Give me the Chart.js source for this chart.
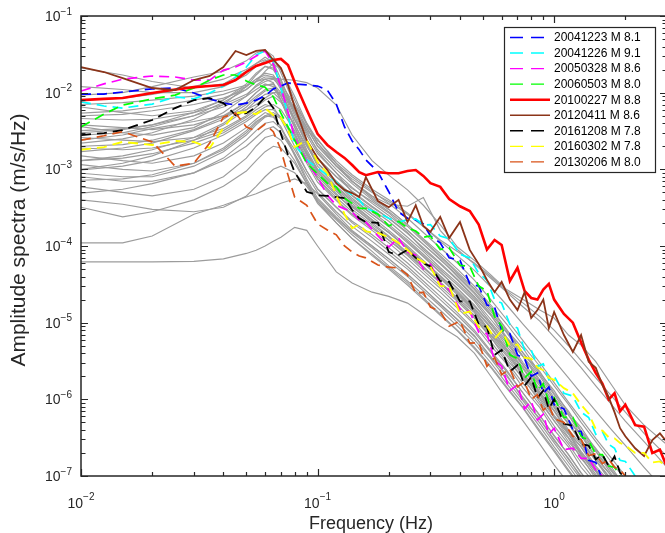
<!DOCTYPE html>
<html lang="en">
  <head>
    <meta charset="utf-8" />
    <title>Amplitude spectra</title>
    <script src="https://cdn.jsdelivr.net/npm/chart.js@4.4.1/dist/chart.umd.min.js"></script>
    <style>
      html, body { margin: 0; padding: 0; background: #fff; overflow: hidden; }
      #wrap { width: 668px; height: 533px; }
    </style>
  </head>
  <body>
    <div id="wrap"><canvas id="spec" width="668" height="533"></canvas></div>
    <script>
      // frequency grids (Hz)
      const freqFine = [0.01, 0.0125, 0.015, 0.02, 0.025, 0.03, 0.035, 0.04, 0.045, 0.05,
        0.055, 0.06, 0.065, 0.07, 0.075, 0.08, 0.09, 0.1, 0.11, 0.12,
        0.13, 0.14, 0.15, 0.16, 0.18, 0.2, 0.22, 0.24, 0.26, 0.28,
        0.3, 0.33, 0.36, 0.4, 0.44, 0.48, 0.52, 0.56, 0.6, 0.65,
        0.7, 0.75, 0.8, 0.85, 0.9, 0.95, 1.0, 1.1, 1.2, 1.3,
        1.4, 1.5, 1.6, 1.7, 1.8, 1.9, 2.0, 2.2, 2.4, 2.6, 2.8, 3.0];
      const freqGray = [0.01, 0.015, 0.02, 0.03, 0.04, 0.05, 0.055, 0.06, 0.065, 0.07,
        0.08, 0.09, 0.1, 0.12, 0.14, 0.17, 0.2, 0.24, 0.28, 0.33,
        0.39, 0.46, 0.54, 0.63, 0.74, 0.87, 1.0, 1.15, 1.3, 1.5, 1.75, 2.0, 2.4, 3.0];

      // axis ticks
      const xMajorTicks = [0.01, 0.1, 1];
      const xTickExp = ["\u22122", "\u22121", "0"];
      const yMajorTicks = [1e-7, 1e-6, 1e-5, 1e-4, 1e-3, 1e-2, 1e-1];
      const yTickExp = ["\u22127", "\u22126", "\u22125", "\u22124", "\u22123", "\u22122", "\u22121"];
      const minorSteps = [1, 2, 3, 4, 5, 6, 7, 8, 9];

      const eventLabels = ["20041223 M 8.1", "20041226 M 9.1", "20050328 M 8.6", "20060503 M 8.0",
        "20100227 M 8.8", "20120411 M 8.6", "20161208 M 7.8", "20160302 M 7.8", "20130206 M 8.0"];

      // highlighted events (m/s/Hz) on freqFine
      const amp20041223 = [9.6e-3, 9.6e-3, 1.02e-2, 1.12e-2, 1.15e-2, 9.9e-3, 8.3e-3, 7.3e-3, 6.9e-3, 7.3e-3,
        8.0e-3, 9.1e-3, 1.12e-2, 1.22e-2, 1.34e-2, 1.3e-2, 1.26e-2, 1.22e-2, 1.08e-2, 7.1e-3,
        3.57e-3, 2.34e-3, 1.8e-3, 1.33e-3, 9.2e-4, 5.1e-4, 2.77e-4, 2.3e-4, 2.19e-4, 1.94e-4,
        1.35e-4, 1.1e-4, 7.0e-5, 6.5e-5, 3.2e-5, 3.0e-5, 1.7e-5, 1.6e-5, 8.0e-6, 7.2e-6,
        3.8e-6, 3.4e-6, 2.0e-6, 2.2e-6, 1.2e-6, 1.45e-6, 8.5e-7, 7.5e-7, 4.0e-7, 3.8e-7,
        1.6e-7, 1.5e-7, 9e-8];
      const amp20041226 = [7.6e-3, 6.7e-3, 6.3e-3, 7.1e-3, 8.8e-3, 8.3e-3, 9.9e-3, 1.22e-2, 1.6e-2, 2.16e-2,
        3.1e-2, 3.5e-2, 2.51e-2, 1.15e-2, 5.1e-3, 2.08e-3, 1.33e-3, 1.04e-3, 8.4e-4, 6.8e-4,
        5.4e-4, 4.6e-4, 4.0e-4, 3.1e-4, 2.7e-4, 2.3e-4, 2.05e-4, 2.2e-4, 2.25e-4, 1.88e-4,
        1.9e-4, 1.35e-4, 1.25e-4, 7.8e-5, 7.0e-5, 4.4e-5, 3.6e-5, 2.0e-5, 1.8e-5, 9.5e-6,
        8.5e-6, 4.4e-6, 4.4e-6, 2.7e-6, 2.9e-6, 1.8e-6, 2.0e-6, 1.2e-6, 1.1e-6, 6.8e-7,
        5.8e-7, 3.5e-7, 3.8e-7, 2.6e-7, 2.3e-7, 1.6e-7, 1.55e-7, 1.0e-7];
      const amp20050328 = [1.05e-2, 1.3e-2, 1.5e-2, 1.65e-2, 1.6e-2, 1.46e-2, 1.46e-2, 1.97e-2, 2.16e-2, 2.51e-2,
        3.0e-2, 3.5e-2, 2.36e-2, 1.18e-2, 5.6e-3, 2.57e-3, 1.25e-3, 7.9e-4, 4.6e-4, 3.4e-4,
        3.05e-4, 2.77e-4, 2.19e-4, 2.05e-4, 1.35e-4, 9.7e-5, 1.27e-4, 8.35e-5, 7.6e-5, 5.0e-5,
        5.8e-5, 3.2e-5, 2.7e-5, 1.5e-5, 1.4e-5, 7.5e-6, 7.2e-6, 3.2e-6, 2.7e-6, 1.3e-6,
        1.55e-6, 7.5e-7, 9.5e-7, 5.4e-7, 6.4e-7, 3.5e-7, 4.2e-7, 2.2e-7, 2.3e-7, 1.7e-7,
        1.7e-7, 1.2e-7, 1.0e-7];
      const amp20060503 = [3.57e-3, 5.25e-3, 6.9e-3, 8.3e-3, 9.3e-3, 1.15e-2, 1.46e-2, 1.7e-2, 1.7e-2, 1.42e-2,
        1.26e-2, 1.18e-2, 8.8e-3, 5.4e-3, 3.57e-3, 2.4e-3, 1.2e-3, 8.7e-4, 6.6e-4, 5.9e-4,
        4.2e-4, 3.6e-4, 3.1e-4, 3.1e-4, 2.6e-4, 1.82e-4, 2.1e-4, 1.72e-4, 1.57e-4, 1.3e-4,
        1.35e-4, 9.0e-5, 9.5e-5, 5.6e-5, 5.4e-5, 3.0e-5, 2.6e-5, 1.2e-5, 9.0e-6, 3.8e-6,
        3.4e-6, 1.9e-6, 2.3e-6, 1.3e-6, 1.6e-6, 9.0e-7, 1.05e-6, 5.8e-7, 5.8e-7, 3.3e-7,
        2.9e-7, 1.9e-7, 1.9e-7, 1.35e-7, 1.3e-7, 1.0e-7];
      const amp20100227 = [8.0e-3, 8.3e-3, 8.5e-3, 9.9e-3, 1.1e-2, 1.18e-2, 1.22e-2, 1.26e-2, 1.46e-2, 1.86e-2,
        2.23e-2, 2.44e-2, 2.67e-2, 2.75e-2, 2.3e-2, 1.38e-2, 6.0e-3, 2.9e-3, 2.08e-3, 1.68e-3,
        1.41e-3, 1.14e-3, 9.2e-4, 8.4e-4, 9.2e-4, 8.9e-4, 8.9e-4, 9.5e-4, 9.8e-4, 8.2e-4,
        6.6e-4, 5.9e-4, 4.1e-4, 3.3e-4, 2.86e-4, 1.9e-4, 9.0e-5, 1.2e-4, 1.03e-4, 3.5e-5,
        5.2e-5, 2.6e-5, 2.1e-5, 2.0e-5, 2.7e-5, 3.2e-5, 2.0e-5, 1.3e-5, 1.0e-5, 5.5e-6,
        3.3e-6, 2.2e-6, 1.6e-6, 1.0e-6, 1.2e-6, 7.0e-7, 8.5e-7, 4.6e-7, 4.4e-7, 2.0e-7,
        2.2e-7, 1.3e-7];
      const amp20120411 = [2.16e-2, 1.86e-2, 1.55e-2, 1.15e-2, 1.08e-2, 1.46e-2, 1.65e-2, 2.16e-2, 3.5e-2, 3.1e-2,
        3.5e-2, 3.6e-2, 2.67e-2, 2.1e-2, 1.26e-2, 6.5e-3, 2.4e-3, 1.41e-3, 9.8e-4, 6.6e-4,
        5.4e-4, 4.9e-4, 4.35e-4, 7.9e-4, 3.85e-4, 3.2e-4, 4.0e-4, 2.05e-4, 3.4e-4, 1.82e-4,
        1.53e-4, 2.4e-4, 1.27e-4, 2.05e-4, 8.9e-5, 5.8e-5, 3.6e-5, 2.5e-5, 3.4e-5, 2.0e-5,
        1.46e-5, 2.5e-5, 1.15e-5, 1.46e-5, 2.0e-5, 8.5e-6, 1.38e-5, 6.9e-6, 4.15e-6, 6.9e-6,
        3.1e-6, 2.57e-6, 1.54e-6, 1.07e-6, 6.8e-7, 4.2e-7, 3.3e-7, 2.3e-7, 1.82e-7, 2.95e-7,
        3.6e-7, 2.77e-7];
      const amp20161208 = [2.8e-3, 2.97e-3, 3.25e-3, 4.4e-3, 6.3e-3, 8.0e-3, 8.5e-3, 7.3e-3, 5.1e-3, 5.4e-3,
        6.5e-3, 8.8e-3, 6.3e-3, 2.9e-3, 1.54e-3, 9.2e-4, 5.1e-4, 4.6e-4, 4.5e-4, 4.35e-4,
        4.2e-4, 2.95e-4, 2.3e-4, 2.05e-4, 2.0e-4, 8.35e-5, 7.6e-5, 8.9e-5, 7.0e-5, 6.0e-5,
        5.4e-5, 3.5e-5, 3.4e-5, 1.9e-5, 1.9e-5, 9.5e-6, 8.8e-6, 3.8e-6, 4.4e-6, 2.3e-6,
        2.8e-6, 1.5e-6, 1.95e-6, 1.05e-6, 1.3e-6, 7.5e-7, 1.0e-6, 4.8e-7, 4.5e-7, 2.6e-7,
        2.5e-7, 1.65e-7, 1.9e-7, 1.35e-7, 1.8e-7, 1.1e-7, 9.5e-8];
      const amp20160302 = [1.8e-3, 1.95e-3, 2.28e-3, 2.08e-3, 2.34e-3, 2.28e-3, 1.9e-3, 3.47e-3, 5.4e-3, 5.6e-3,
        5.25e-3, 6.3e-3, 5.1e-3, 4.7e-3, 3.25e-3, 1.95e-3, 2.4e-3, 1.25e-3, 8.9e-4, 4.6e-4,
        2.6e-4, 1.7e-4, 1.9e-4, 1.55e-4, 1.48e-4, 1.3e-4, 1.1e-4, 8.9e-5, 7.0e-5, 6.2e-5,
        5.4e-5, 3.0e-5, 3.0e-5, 1.3e-5, 1.4e-5, 8.8e-6, 9.0e-6, 6.2e-6, 7.8e-6, 5.0e-6,
        5.2e-6, 3.5e-6, 3.4e-6, 2.6e-6, 2.4e-6, 1.9e-6, 1.8e-6, 1.4e-6, 1.2e-6, 8.5e-7,
        6.5e-7, 4.1e-7, 3.9e-7, 3.2e-7, 3.1e-7, 2.7e-7, 2.5e-7, 2.0e-7, 2.0e-7, 1.5e-7,
        1.55e-7, 1.3e-7];
      const amp20130206 = [2.4e-3, 2.74e-3, 3.1e-3, 2.28e-3, 1.1e-3, 1.2e-3, 2.2e-3, 4.8e-3, 5.4e-3, 3.57e-3,
        3.16e-3, 3.9e-3, 3.1e-3, 1.8e-3, 8.4e-4, 4.35e-4, 3.4e-4, 1.94e-4, 1.62e-4, 1.4e-4,
        1.0e-4, 8.35e-5, 7.4e-5, 7.0e-5, 5.65e-5, 5.3e-5, 5.16e-5, 4.2e-5, 2.4e-5, 2.5e-5,
        1.6e-5, 1.4e-5, 9.0e-6, 1.05e-5, 5.4e-6, 5.5e-6, 2.7e-6, 3.5e-6, 2.1e-6, 2.5e-6,
        1.45e-6, 1.7e-6, 1.0e-6, 1.15e-6, 7.2e-7, 8.5e-7, 5.6e-7, 5.0e-7, 3.3e-7, 3.0e-7,
        1.85e-7, 1.95e-7, 1.45e-7, 1.65e-7, 1.3e-7, 1.2e-7, 1.0e-7];

      // background events (gray) on freqGray
      const gray01 = [2.1e-2, 1.7e-2, 1.4e-2, 1.15e-2, 1.3e-2, 1.9e-2, 2.4e-2, 2.9e-2, 2.5e-2, 1.5e-2, 5.5e-3, 2.4e-3, 1.4e-3, 8.0e-4, 5.6e-4, 3.8e-4, 2.7e-4, 1.6e-4, 1.05e-4, 6.8e-5, 4.0e-5, 2.4e-5, 1.3e-5, 7.4e-6, 3.6e-6, 2.0e-6, 1.05e-6, 6.2e-7, 3.4e-7, 2.1e-7, 1.05e-7, 6.6e-8, 3.1e-8, 1.5e-8];
      const gray02 = [9.3e-3, 1.0e-2, 1.2e-2, 1.6e-2, 1.9e-2, 2.6e-2, 3.3e-2, 3.6e-2, 3.0e-2, 1.8e-2, 7.0e-3, 3.5e-3, 2.0e-3, 1.1e-3, 7.0e-4, 4.2e-4, 3.0e-4, 1.9e-4, 1.2e-4, 7.5e-5, 4.6e-5, 2.8e-5, 1.6e-5, 8.0e-6, 4.6e-6, 2.2e-6, 1.3e-6, 6.6e-7, 4.3e-7, 2.2e-7, 1.3e-7, 7.0e-8, 3.8e-8, 1.6e-8];
      const gray03 = [7.0e-3, 7.4e-3, 8.0e-3, 9.0e-3, 1.05e-2, 1.25e-2, 1.4e-2, 1.5e-2, 1.55e-2, 1.5e-2, 1.45e-2, 1.35e-2, 1.15e-2, 6.9e-3, 2.8e-3, 1.3e-3, 8.4e-4, 5.4e-4, 3.4e-4, 1.9e-4, 9.7e-5, 6.5e-5, 4.2e-5, 2.7e-5, 2.0e-5, 1.46e-5, 1.15e-5, 6.9e-6, 5.1e-6, 3.1e-6, 1.54e-6, 8.4e-7, 4.6e-7, 2.55e-7];
      const gray04 = [8.0e-3, 8.5e-3, 9.5e-3, 1.2e-2, 1.5e-2, 2.0e-2, 2.4e-2, 2.7e-2, 2.2e-2, 1.2e-2, 4.5e-3, 2.2e-3, 1.2e-3, 7.0e-4, 4.6e-4, 3.0e-4, 2.1e-4, 1.3e-4, 8.5e-5, 5.2e-5, 3.3e-5, 2.0e-5, 1.1e-5, 6.2e-6, 3.0e-6, 1.65e-6, 9.0e-7, 4.8e-7, 3.0e-7, 1.6e-7, 9.0e-8, 5.2e-8, 2.6e-8, 1.2e-8];
      const gray05 = [6.5e-3, 5.5e-3, 5.0e-3, 5.8e-3, 8.0e-3, 1.3e-2, 1.8e-2, 2.2e-2, 2.0e-2, 1.4e-2, 6.0e-3, 2.8e-3, 1.6e-3, 9.0e-4, 5.0e-4, 3.2e-4, 2.3e-4, 1.5e-4, 9.0e-5, 5.8e-5, 3.6e-5, 2.1e-5, 1.25e-5, 6.2e-6, 3.6e-6, 1.7e-6, 1.0e-6, 5.2e-7, 3.4e-7, 1.7e-7, 1.0e-7, 5.6e-8, 3.0e-8, 1.3e-8];
      const gray06 = [5.4e-3, 5.8e-3, 6.5e-3, 8.0e-3, 9.5e-3, 1.2e-2, 1.5e-2, 1.7e-2, 1.6e-2, 1.1e-2, 4.0e-3, 1.8e-3, 1.0e-3, 5.5e-4, 3.6e-4, 2.2e-4, 1.5e-4, 9.5e-5, 6.0e-5, 3.8e-5, 2.4e-5, 1.45e-5, 7.6e-6, 4.5e-6, 2.2e-6, 1.2e-6, 6.2e-7, 3.7e-7, 2.1e-7, 1.2e-7, 6.5e-8, 3.8e-8, 1.9e-8, 9e-9];
      const gray07 = [4.6e-3, 4.4e-3, 4.5e-3, 5.5e-3, 7.0e-3, 9.5e-3, 1.2e-2, 1.4e-2, 1.5e-2, 1.2e-2, 6.0e-3, 3.0e-3, 1.8e-3, 1.0e-3, 6.5e-4, 4.0e-4, 2.8e-4, 1.8e-4, 1.15e-4, 7.2e-5, 4.4e-5, 2.7e-5, 1.5e-5, 8.2e-6, 4.0e-6, 2.3e-6, 1.2e-6, 7.0e-7, 3.9e-7, 2.3e-7, 1.2e-7, 7.2e-8, 3.5e-8, 1.6e-8];
      const gray08 = [3.8e-3, 3.5e-3, 3.3e-3, 3.8e-3, 5.0e-3, 7.5e-3, 1.0e-2, 1.25e-2, 1.3e-2, 9.0e-3, 3.5e-3, 1.5e-3, 8.5e-4, 4.8e-4, 3.0e-4, 1.9e-4, 1.3e-4, 8.0e-5, 5.2e-5, 3.3e-5, 2.0e-5, 1.2e-5, 6.4e-6, 3.7e-6, 1.8e-6, 1.0e-6, 5.2e-7, 3.1e-7, 1.7e-7, 1.0e-7, 5.4e-8, 3.2e-8, 1.6e-8, 7e-9];
      const gray09 = [3.2e-3, 3.4e-3, 3.8e-3, 5.0e-3, 6.5e-3, 9.0e-3, 1.1e-2, 1.3e-2, 1.2e-2, 8.0e-3, 3.0e-3, 1.4e-3, 8.0e-4, 4.6e-4, 3.2e-4, 2.1e-4, 1.5e-4, 9.5e-5, 6.2e-5, 4.0e-5, 2.5e-5, 1.5e-5, 8.5e-6, 4.4e-6, 2.5e-6, 1.2e-6, 7.0e-7, 3.6e-7, 2.4e-7, 1.2e-7, 7.0e-8, 4.0e-8, 2.0e-8, 9e-9];
      const gray10 = [2.6e-3, 2.4e-3, 2.3e-3, 2.6e-3, 3.4e-3, 5.0e-3, 6.5e-3, 8.0e-3, 9.0e-3, 7.5e-3, 3.8e-3, 2.0e-3, 1.2e-3, 7.0e-4, 4.5e-4, 2.8e-4, 1.9e-4, 1.2e-4, 7.8e-5, 4.9e-5, 3.1e-5, 1.9e-5, 1.0e-5, 5.8e-6, 2.8e-6, 1.6e-6, 8.0e-7, 4.8e-7, 2.7e-7, 1.6e-7, 8.0e-8, 5.0e-8, 2.4e-8, 1.1e-8];
      const gray11 = [2.2e-3, 2.5e-3, 3.0e-3, 4.5e-3, 7.0e-3, 1.2e-2, 1.7e-2, 2.2e-2, 2.1e-2, 1.3e-2, 5.0e-3, 2.2e-3, 1.2e-3, 6.5e-4, 4.2e-4, 2.6e-4, 1.8e-4, 1.1e-4, 7.2e-5, 4.5e-5, 2.8e-5, 1.65e-5, 9.6e-6, 4.9e-6, 2.8e-6, 1.35e-6, 7.8e-7, 4.0e-7, 2.6e-7, 1.35e-7, 7.8e-8, 4.4e-8, 2.3e-8, 1e-8];
      const gray12 = [1.9e-3, 1.8e-3, 1.9e-3, 2.4e-3, 3.2e-3, 4.8e-3, 6.0e-3, 7.0e-3, 6.5e-3, 4.5e-3, 2.0e-3, 9.5e-4, 5.5e-4, 3.2e-4, 2.1e-4, 1.4e-4, 9.5e-5, 6.0e-5, 3.9e-5, 2.5e-5, 1.55e-5, 9.5e-6, 5.0e-6, 2.9e-6, 1.4e-6, 7.8e-7, 4.0e-7, 2.4e-7, 1.3e-7, 7.8e-8, 4.1e-8, 2.5e-8, 1.2e-8, 6e-9];
      const gray13 = [1.7e-3, 1.9e-3, 2.2e-3, 3.2e-3, 4.5e-3, 7.0e-3, 9.0e-3, 1.1e-2, 1.15e-2, 9.0e-3, 4.5e-3, 2.4e-3, 1.4e-3, 8.0e-4, 5.2e-4, 3.3e-4, 2.3e-4, 1.45e-4, 9.5e-5, 6.0e-5, 3.7e-5, 2.2e-5, 1.25e-5, 6.5e-6, 3.6e-6, 1.8e-6, 1.0e-6, 5.4e-7, 3.4e-7, 1.8e-7, 1.0e-7, 5.8e-8, 3e-8, 1.3e-8];
      const gray14 = [1.3e-3, 1.4e-3, 1.6e-3, 2.2e-3, 3.0e-3, 4.5e-3, 5.5e-3, 6.5e-3, 7.0e-3, 6.0e-3, 3.2e-3, 1.6e-3, 9.0e-4, 5.2e-4, 3.4e-4, 2.2e-4, 1.5e-4, 9.2e-5, 6.0e-5, 3.8e-5, 2.3e-5, 1.4e-5, 7.4e-6, 4.2e-6, 2.1e-6, 1.15e-6, 6.0e-7, 3.5e-7, 2.0e-7, 1.15e-7, 6.2e-8, 3.7e-8, 1.8e-8, 8e-9];
      const gray15 = [1.15e-3, 1.0e-3, 9.5e-4, 1.2e-3, 1.8e-3, 3.0e-3, 4.0e-3, 5.0e-3, 5.5e-3, 4.8e-3, 2.6e-3, 1.3e-3, 7.5e-4, 4.3e-4, 2.8e-4, 1.8e-4, 1.2e-4, 7.5e-5, 4.8e-5, 3.0e-5, 1.9e-5, 1.15e-5, 6.4e-6, 3.3e-6, 1.9e-6, 9.2e-7, 5.3e-7, 2.8e-7, 1.8e-7, 9.2e-8, 5.3e-8, 3e-8, 1.5e-8, 7e-9];
      const gray16 = [9.8e-4, 1.1e-3, 1.3e-3, 1.9e-3, 2.8e-3, 4.2e-3, 5.2e-3, 6.0e-3, 6.0e-3, 4.8e-3, 2.4e-3, 1.2e-3, 6.8e-4, 3.9e-4, 2.5e-4, 1.6e-4, 1.1e-4, 6.8e-5, 4.4e-5, 2.8e-5, 1.7e-5, 1.0e-5, 5.6e-6, 3.1e-6, 1.6e-6, 8.5e-7, 4.5e-7, 2.6e-7, 1.5e-7, 8.5e-8, 4.6e-8, 2.7e-8, 1.4e-8, 6e-9];
      const gray17 = [8.9e-4, 8.0e-4, 8.0e-4, 1.1e-3, 1.7e-3, 2.8e-3, 3.8e-3, 4.8e-3, 5.2e-3, 4.6e-3, 2.8e-3, 1.6e-3, 1.0e-3, 5.8e-4, 3.8e-4, 2.4e-4, 1.6e-4, 1.0e-4, 6.5e-5, 4.1e-5, 2.6e-5, 1.55e-5, 8.8e-6, 4.6e-6, 2.6e-6, 1.25e-6, 7.2e-7, 3.8e-7, 2.4e-7, 1.3e-7, 7.0e-8, 4.1e-8, 2.1e-8, 9e-9];
      const gray18 = [7.2e-4, 7.5e-4, 8.5e-4, 1.2e-3, 1.9e-3, 3.2e-3, 4.2e-3, 5.0e-3, 4.8e-3, 3.6e-3, 1.6e-3, 7.5e-4, 4.2e-4, 2.4e-4, 1.55e-4, 1.0e-4, 6.8e-5, 4.3e-5, 2.8e-5, 1.75e-5, 1.1e-5, 6.8e-6, 3.5e-6, 2.1e-6, 1.0e-6, 5.6e-7, 2.9e-7, 1.7e-7, 9.5e-8, 5.6e-8, 3e-8, 1.8e-8, 9e-9, 4e-9];
      const gray19 = [5.9e-4, 5.0e-4, 4.5e-4, 5.5e-4, 8.0e-4, 1.4e-3, 2.0e-3, 2.6e-3, 2.8e-3, 2.4e-3, 1.3e-3, 6.5e-4, 3.6e-4, 2.0e-4, 1.25e-4, 7.5e-5, 5.0e-5, 3.1e-5, 2.0e-5, 1.25e-5, 7.8e-6, 4.6e-6, 2.6e-6, 1.4e-6, 7.6e-7, 3.7e-7, 2.1e-7, 1.15e-7, 7e-8, 3.9e-8, 2.1e-8, 1.2e-8, 6e-9, 3e-9];
      const gray20 = [3.2e-4, 2.4e-4, 2.8e-4, 4.0e-4, 6.0e-4, 9.5e-4, 1.3e-3, 1.7e-3, 2.0e-3, 1.9e-3, 1.2e-3, 6.5e-4, 4.0e-4, 2.3e-4, 1.5e-4, 9.5e-5, 6.3e-5, 4.0e-5, 2.6e-5, 1.65e-5, 1.0e-5, 6.0e-6, 3.4e-6, 1.8e-6, 9.5e-7, 4.9e-7, 2.7e-7, 1.5e-7, 9e-8, 5e-8, 2.7e-8, 1.6e-8, 8e-9, 4e-9];
      const gray21 = [4.0e-4, 3.5e-4, 3.0e-4, 2.8e-4, 3.2e-4, 4.5e-4, 6.0e-4, 8.0e-4, 1.0e-3, 1.1e-3, 9.0e-4, 6.0e-4, 3.8e-4, 2.2e-4, 1.4e-4, 8.5e-5, 5.5e-5, 3.5e-5, 2.3e-5, 1.45e-5, 9.0e-6, 5.4e-6, 3.0e-6, 1.6e-6, 8.6e-7, 4.4e-7, 2.4e-7, 1.35e-7, 8e-8, 4.5e-8, 2.4e-8, 1.4e-8, 7e-9, 3e-9];
      const gray22 = [1.1e-4, 1.1e-4, 1.35e-4, 2.6e-4, 3.4e-4, 4.35e-4, 4.8e-4, 5.4e-4, 6.0e-4, 6.6e-4, 7.5e-4, 6.5e-4, 4.8e-4, 2.6e-4, 1.6e-4, 1.0e-4, 6.8e-5, 4.3e-5, 2.8e-5, 1.75e-5, 1.1e-5, 6.6e-6, 3.6e-6, 2.0e-6, 1.05e-6, 5.4e-7, 3.0e-7, 1.65e-7, 1.0e-7, 5.5e-8, 3e-8, 1.8e-8, 9e-9, 4e-9];
      const gray23 = [6.2e-5, 6.2e-5, 6.2e-5, 6.3e-5, 6.8e-5, 8.0e-5, 8.8e-5, 1.0e-4, 1.15e-4, 1.3e-4, 1.75e-4, 1.6e-4, 1.0e-4, 4.6e-5, 3.3e-5, 2.5e-5, 2.2e-5, 1.8e-5, 1.3e-5, 9.0e-6, 6.5e-6, 4.0e-6, 2.0e-6, 1.0e-6, 5.2e-7, 2.6e-7, 1.4e-7, 8e-8, 4.5e-8, 2.5e-8, 1.3e-8, 8e-9, 4e-9, 2e-9];
      const gray24 = [3.0e-3, 3.3e-3, 3.8e-3, 5.5e-3, 8.0e-3, 1.2e-2, 1.5e-2, 1.8e-2, 1.7e-2, 1.2e-2, 5.5e-3, 3.2e-3, 2.5e-3, 1.2e-3, 7.0e-4, 4.5e-4, 3.5e-4, 3.3e-4, 4.3e-4, 1.6e-4, 9.0e-5, 5.8e-5, 3.8e-5, 2.5e-5, 1.6e-5, 1.05e-5, 6.5e-6, 4.0e-6, 2.6e-6, 1.5e-6, 8.5e-7, 5.2e-7, 2.8e-7, 1.3e-7];
      const gray25 = [1.3e-3, 1.5e-3, 1.8e-3, 2.6e-3, 4.0e-3, 6.5e-3, 8.5e-3, 1.05e-2, 1.1e-2, 9.5e-3, 6.0e-3, 3.5e-3, 2.0e-3, 1.1e-3, 7.5e-4, 5.0e-4, 3.8e-4, 2.6e-4, 1.8e-4, 1.2e-4, 8.5e-5, 6.0e-5, 4.0e-5, 2.6e-5, 1.8e-5, 1.2e-5, 8.0e-6, 5.0e-6, 3.2e-6, 1.9e-6, 1.1e-6, 6.8e-7, 3.6e-7, 1.8e-7];
      const gray26 = [1.2e-2, 1.1e-2, 1.0e-2, 1.0e-2, 1.2e-2, 1.7e-2, 2.2e-2, 2.6e-2, 2.8e-2, 2.0e-2, 8.0e-3, 3.8e-3, 2.2e-3, 1.2e-3, 8.0e-4, 5.2e-4, 3.6e-4, 2.3e-4, 1.5e-4, 9.5e-5, 6.0e-5, 3.6e-5, 2.0e-5, 1.1e-5, 5.8e-6, 3.0e-6, 1.65e-6, 9.2e-7, 5.6e-7, 3.1e-7, 1.7e-7, 1.0e-7, 5e-8, 2.2e-8];
      const gray27 = [1.5e-3, 1.3e-3, 1.2e-3, 1.5e-3, 2.2e-3, 3.5e-3, 4.5e-3, 5.5e-3, 5.0e-3, 3.5e-3, 1.5e-3, 7.0e-4, 3.8e-4, 2.0e-4, 1.25e-4, 7.8e-5, 5.2e-5, 3.3e-5, 2.1e-5, 1.3e-5, 8.0e-6, 4.8e-6, 2.7e-6, 1.45e-6, 7.8e-7, 3.9e-7, 2.2e-7, 1.2e-7, 7.2e-8, 4e-8, 2.2e-8, 1.3e-8, 6e-9, 3e-9];
      const gray28 = [2.4e-3, 2.8e-3, 3.4e-3, 4.2e-3, 5.0e-3, 6.0e-3, 7.0e-3, 8.5e-3, 1.0e-2, 1.0e-2, 6.5e-3, 3.2e-3, 1.7e-3, 9.0e-4, 5.8e-4, 3.6e-4, 2.5e-4, 1.6e-4, 1.05e-4, 6.6e-5, 4.2e-5, 2.5e-5, 1.4e-5, 7.6e-6, 4.0e-6, 2.1e-6, 1.15e-6, 6.3e-7, 3.8e-7, 2.1e-7, 1.15e-7, 6.7e-8, 3.4e-8, 1.5e-8];
      const gray29 = [4.9e-4, 5.5e-4, 6.5e-4, 9.0e-4, 1.3e-3, 2.0e-3, 2.6e-3, 3.3e-3, 3.6e-3, 3.0e-3, 1.6e-3, 8.5e-4, 5.0e-4, 2.8e-4, 1.8e-4, 1.15e-4, 7.8e-5, 5.0e-5, 3.2e-5, 2.0e-5, 1.25e-5, 7.5e-6, 4.1e-6, 2.3e-6, 1.2e-6, 6.1e-7, 3.4e-7, 1.9e-7, 1.1e-7, 6.2e-8, 3.4e-8, 2e-8, 1e-8, 4.5e-9];
      const gray30 = [3.6e-3, 3.0e-3, 2.8e-3, 3.5e-3, 5.5e-3, 9.0e-3, 1.25e-2, 1.5e-2, 1.35e-2, 8.0e-3, 2.8e-3, 1.3e-3, 7.5e-4, 4.0e-4, 2.6e-4, 1.7e-4, 1.2e-4, 7.8e-5, 5.2e-5, 3.4e-5, 2.1e-5, 1.35e-5, 7.0e-6, 4.2e-6, 2.0e-6, 1.15e-6, 5.8e-7, 3.6e-7, 1.9e-7, 1.15e-7, 5.8e-8, 3.6e-8, 1.7e-8, 8e-9];
      const gray31 = [1.0e-3, 1.2e-3, 1.5e-3, 2.4e-3, 3.8e-3, 6.0e-3, 7.8e-3, 9.5e-3, 1.0e-2, 8.0e-3, 3.6e-3, 1.7e-3, 9.5e-4, 5.2e-4, 3.3e-4, 2.0e-4, 1.35e-4, 8.2e-5, 5.4e-5, 3.3e-5, 2.0e-5, 1.25e-5, 6.8e-6, 3.9e-6, 2.0e-6, 1.05e-6, 5.8e-7, 3.2e-7, 1.9e-7, 1.05e-7, 5.8e-8, 3.3e-8, 1.6e-8, 7e-9];
      const gray32 = [8.0e-4, 7.0e-4, 7.0e-4, 9.0e-4, 1.4e-3, 2.4e-3, 3.2e-3, 4.0e-3, 4.2e-3, 3.4e-3, 1.8e-3, 9.5e-4, 5.6e-4, 3.2e-4, 2.0e-4, 1.3e-4, 8.6e-5, 5.4e-5, 3.5e-5, 2.2e-5, 1.35e-5, 8.0e-6, 4.3e-6, 2.4e-6, 1.2e-6, 6.2e-7, 3.3e-7, 1.9e-7, 1.1e-7, 6.2e-8, 3.4e-8, 2e-8, 1e-8, 4.5e-9];
      const gray33 = [2.0e-3, 2.1e-3, 2.4e-3, 3.3e-3, 4.8e-3, 7.5e-3, 1.0e-2, 1.25e-2, 1.3e-2, 1.0e-2, 4.5e-3, 2.1e-3, 1.1e-3, 6.0e-4, 4.0e-4, 2.6e-4, 1.8e-4, 1.15e-4, 7.4e-5, 4.6e-5, 2.8e-5, 1.7e-5, 9.5e-6, 5.4e-6, 2.8e-6, 1.5e-6, 8.4e-7, 4.8e-7, 2.8e-7, 1.6e-7, 8.8e-8, 5.2e-8, 2.6e-8, 1.2e-8];
      const gray34 = [5.0e-3, 5.2e-3, 5.8e-3, 7.0e-3, 8.5e-3, 1.1e-2, 1.4e-2, 1.9e-2, 2.4e-2, 2.0e-2, 9.0e-3, 4.0e-3, 2.2e-3, 1.1e-3, 7.0e-4, 4.4e-4, 3.0e-4, 1.9e-4, 1.25e-4, 8.0e-5, 5.0e-5, 3.0e-5, 1.7e-5, 9.6e-6, 5.0e-6, 2.7e-6, 1.5e-6, 8.6e-7, 5.0e-7, 2.8e-7, 1.5e-7, 9e-8, 4.5e-8, 2e-8];
      const gray35 = [2.8e-3, 3.0e-3, 3.6e-3, 5.0e-3, 7.5e-3, 1.1e-2, 1.4e-2, 1.6e-2, 1.6e-2, 1.3e-2, 7.0e-3, 4.0e-3, 2.4e-3, 1.3e-3, 8.5e-4, 5.5e-4, 4.0e-4, 2.7e-4, 1.8e-4, 1.15e-4, 7.5e-5, 4.8e-5, 2.9e-5, 1.7e-5, 9.5e-6, 5.4e-6, 3.2e-6, 1.9e-6, 1.2e-6, 7.0e-7, 4.0e-7, 2.5e-7, 1.3e-7, 6e-8];

      const eventSeries = [amp20041223, amp20041226, amp20050328, amp20060503, amp20100227,
        amp20120411, amp20161208, amp20160302, amp20130206];
      const graySeries = [gray01, gray02, gray03, gray04, gray05, gray06, gray07, gray08, gray09, gray10,
        gray11, gray12, gray13, gray14, gray15, gray16, gray17, gray18, gray19, gray20,
        gray21, gray22, gray23, gray24, gray25, gray26, gray27, gray28, gray29, gray30,
        gray31, gray32, gray33, gray34, gray35];

      const eventColors = ["#0000ff", "#00ffff", "#ff00ff", "#00ff00", "#ff0000", "#8b3419", "#000000", "#ffff00", "#d95319"];
      const eventDash = [[10, 6], [10, 6], [10, 6], [10, 6], [], [], [10, 6], [10, 6], [10, 6]];
      const eventWidth = [1.7, 1.7, 1.7, 1.7, 2.6, 1.8, 1.8, 1.9, 1.7];
      const axisColor = "#262626";
      const fontFamily = "'Liberation Sans', Arial, Helvetica, sans-serif";

      function points(freqs, amps) {
        return amps.map(function (a, i) { return { x: freqs[i], y: a }; });
      }

      const datasets = [];
      eventSeries.forEach(function (amps, i) {
        datasets.push({
          label: eventLabels[i],
          data: points(freqFine, amps),
          borderColor: eventColors[i],
          borderDash: eventDash[i],
          borderWidth: eventWidth[i],
          pointRadius: 0,
          tension: 0,
          order: 9 - i,
        });
      });
      graySeries.forEach(function (amps) {
        datasets.push({
          label: "",
          data: points(freqGray, amps),
          borderColor: "#9c9c9c",
          borderWidth: 1.15,
          pointRadius: 0,
          tension: 0,
          order: 100,
        });
      });

      // axes box, inward ticks, labels and titles (MATLAB look)
      const frame = {
        id: "frame",
        beforeDraw(chart) {
          const ctx = chart.ctx;
          ctx.save();
          ctx.fillStyle = "#fff";
          ctx.fillRect(0, 0, chart.width, chart.height);
          ctx.restore();
        },
        afterDraw(chart) {
          const { ctx, chartArea: a, scales: { x, y } } = chart;
          ctx.save();
          ctx.strokeStyle = axisColor;
          ctx.lineWidth = 1.2;
          ctx.beginPath();
          xMajorTicks.forEach(function (d) {
            minorSteps.forEach(function (m) {
              const v = m * d;
              if (v > x.max * 1.0001) return;
              const px = Math.round(x.getPixelForValue(v)) + 0.5;
              const len = m === 1 ? 7 : 4;
              ctx.moveTo(px, a.bottom); ctx.lineTo(px, a.bottom - len);
              ctx.moveTo(px, a.top); ctx.lineTo(px, a.top + len);
            });
          });
          yMajorTicks.forEach(function (d) {
            minorSteps.forEach(function (m) {
              const v = m * d;
              if (v > y.max * 1.0001) return;
              const py = Math.round(y.getPixelForValue(v)) + 0.5;
              const len = m === 1 ? 7 : 4.5;
              ctx.moveTo(a.left, py); ctx.lineTo(a.left + len, py);
              ctx.moveTo(a.right, py); ctx.lineTo(a.right - len, py);
            });
          });
          ctx.stroke();
          ctx.lineWidth = 1.5;
          ctx.strokeRect(a.left, a.top, a.right - a.left, a.bottom - a.top);

          ctx.fillStyle = axisColor;
          ctx.textBaseline = "alphabetic";
          // x tick labels
          xMajorTicks.forEach(function (v, i) {
            const px = x.getPixelForValue(v);
            ctx.font = "14px " + fontFamily;
            const wb = ctx.measureText("10").width;
            ctx.font = "10px " + fontFamily;
            const we = ctx.measureText(xTickExp[i]).width;
            const x0 = px - (wb + we) / 2;
            ctx.textAlign = "left";
            ctx.font = "14px " + fontFamily;
            ctx.fillText("10", x0, a.bottom + 32);
            ctx.font = "10px " + fontFamily;
            ctx.fillText(xTickExp[i], x0 + wb, a.bottom + 24);
          });
          // y tick labels
          yMajorTicks.forEach(function (v, i) {
            const py = y.getPixelForValue(v);
            const right = a.left - 9;
            ctx.font = "10px " + fontFamily;
            const we = ctx.measureText(yTickExp[i]).width;
            ctx.textAlign = "right";
            ctx.fillText(yTickExp[i], right, py - 1.5);
            ctx.font = "14px " + fontFamily;
            ctx.fillText("10", right - we, py + 5);
          });
          // axis titles
          ctx.textAlign = "center";
          ctx.font = "18px " + fontFamily;
          ctx.fillText("Frequency (Hz)", (a.left + a.right) / 2 - 3, a.bottom + 53);
          ctx.save();
          ctx.translate(25, (a.top + a.bottom) / 2 - 6);
          ctx.rotate(-Math.PI / 2);
          ctx.font = "21px " + fontFamily;
          ctx.fillText("Amplitude spectra (m/s/Hz)", 0, 0);
          ctx.restore();
          ctx.restore();
        },
      };

      // legend box in the upper right corner
      const legendBox = {
        id: "legendBox",
        afterDraw(chart) {
          const ctx = chart.ctx;
          const left = 504, top = 27, width = 151, height = 145;
          ctx.save();
          ctx.fillStyle = "#fff";
          ctx.fillRect(left, top, width, height);
          ctx.strokeStyle = axisColor;
          ctx.lineWidth = 1.2;
          ctx.strokeRect(left + 0.5, top + 0.5, width, height);
          ctx.font = "12px " + fontFamily;
          ctx.textAlign = "left";
          ctx.textBaseline = "middle";
          eventLabels.forEach(function (label, i) {
            const yy = top + 10.5 + i * 15.55;
            ctx.strokeStyle = eventColors[i];
            ctx.lineWidth = i === 4 ? 2.6 : 1.4;
            ctx.setLineDash(eventDash[i].length ? [13, 8] : []);
            ctx.beginPath();
            ctx.moveTo(510, yy);
            ctx.lineTo(eventDash[i].length ? 544 : 550, yy);
            ctx.stroke();
            ctx.setLineDash([]);
            ctx.fillStyle = "#000";
            ctx.fillText(label, 554, yy + 0.5);
          });
          ctx.restore();
        },
      };

      new Chart(document.getElementById("spec"), {
        type: "line",
        data: { datasets: datasets },
        options: {
          responsive: false,
          devicePixelRatio: 1,
          animation: false,
          layout: { padding: { left: 81, right: 1, top: 16, bottom: 57 } },
          plugins: { legend: { display: false }, tooltip: { enabled: false } },
          scales: {
            x: { type: "logarithmic", min: 0.01, max: 3, display: false },
            y: { type: "logarithmic", min: 1e-7, max: 1e-1, display: false },
          },
        },
        plugins: [frame, legendBox],
      });
    </script>
  </body>
</html>
